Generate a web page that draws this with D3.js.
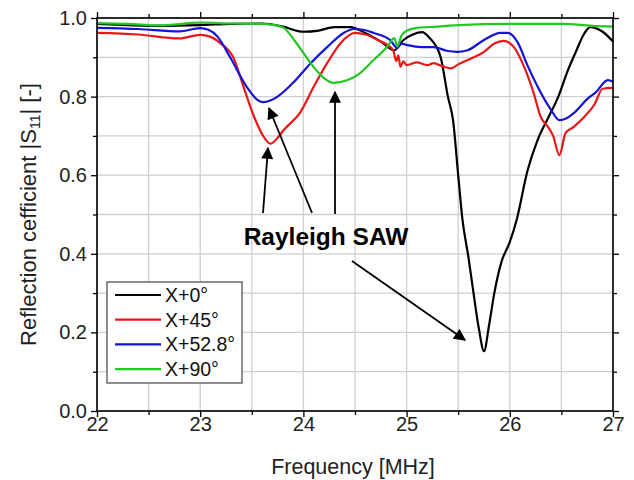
<!DOCTYPE html>
<html><head><meta charset="utf-8">
<script src="https://cdn.jsdelivr.net/npm/d3@7"></script>
<style>body{margin:0;background:#fff;} svg{display:block;font-family:"Liberation Sans",Arial,sans-serif;}</style>
</head><body>
<svg id="c" width="634" height="480"></svg>
<script>
const seriesNames = ["X+0°", "X+45°", "X+52.8°", "X+90°"];
const seriesColors = ["#000000", "#e81818", "#1414d4", "#22c822"];
const xTicks = [22, 23, 24, 25, 26, 27];
const yTicks = [0.0, 0.2, 0.4, 0.6, 0.8, 1.0];

const blackF = [22, 22.3, 22.6, 23, 23.3, 23.6, 23.8, 24.0, 24.15, 24.3, 24.45, 24.6, 24.75, 24.88, 24.97, 25.06, 25.15, 25.22, 25.33, 25.4, 25.45, 25.5, 25.54, 25.6, 25.64, 25.7, 25.75, 25.8, 25.85, 25.92, 26.0, 26.07, 26.17, 26.27, 26.37, 26.47, 26.56, 26.65, 26.72, 26.78, 26.9, 27];
const blackV = [0.985, 0.982, 0.98, 0.982, 0.985, 0.986, 0.978, 0.965, 0.968, 0.977, 0.977, 0.962, 0.94, 0.918, 0.944, 0.958, 0.964, 0.95, 0.90, 0.80, 0.74, 0.60, 0.49, 0.39, 0.316, 0.21, 0.152, 0.22, 0.30, 0.38, 0.43, 0.49, 0.61, 0.69, 0.745, 0.80, 0.865, 0.92, 0.96, 0.977, 0.965, 0.94];

const redF = [22, 22.4, 22.8, 23.0, 23.1, 23.2, 23.32, 23.42, 23.52, 23.61, 23.68, 23.75, 23.81, 23.97, 24.1, 24.23, 24.36, 24.5, 24.6, 24.72, 24.87, 24.9, 24.92, 24.94, 24.97, 25.0, 25.1, 25.2, 25.26, 25.35, 25.43, 25.5, 25.59, 25.75, 25.85, 25.94, 26.04, 26.14, 26.23, 26.3, 26.37, 26.42, 26.48, 26.54, 26.62, 26.72, 26.82, 26.9, 27];
const redV = [0.962, 0.958, 0.948, 0.957, 0.952, 0.935, 0.90, 0.825, 0.75, 0.70, 0.68, 0.695, 0.715, 0.76, 0.825, 0.885, 0.936, 0.962, 0.958, 0.944, 0.918, 0.89, 0.905, 0.876, 0.89, 0.88, 0.887, 0.88, 0.885, 0.877, 0.872, 0.882, 0.893, 0.914, 0.935, 0.942, 0.926, 0.875, 0.81, 0.748, 0.723, 0.70, 0.651, 0.707, 0.723, 0.748, 0.78, 0.82, 0.822];

const blueF = [22, 22.4, 22.8, 23.0, 23.08, 23.17, 23.29, 23.45, 23.54, 23.61, 23.68, 23.75, 23.9, 24.07, 24.23, 24.39, 24.49, 24.58, 24.68, 24.84, 24.91, 24.95, 25.01, 25.14, 25.26, 25.4, 25.49, 25.59, 25.75, 25.91, 25.98, 26.08, 26.17, 26.27, 26.4, 26.48, 26.55, 26.62, 26.76, 26.83, 26.95, 27];
const blueV = [0.975, 0.972, 0.966, 0.974, 0.97, 0.952, 0.90, 0.825, 0.795, 0.786, 0.79, 0.80, 0.835, 0.885, 0.926, 0.962, 0.972, 0.97, 0.962, 0.944, 0.924, 0.935, 0.931, 0.926, 0.926, 0.916, 0.914, 0.918, 0.944, 0.962, 0.962, 0.936, 0.88, 0.825, 0.766, 0.74, 0.745, 0.758, 0.796, 0.81, 0.842, 0.838];

const greenF = [22, 22.3, 22.6, 23, 23.3, 23.6, 23.72, 23.81, 23.91, 24.0, 24.1, 24.2, 24.29, 24.43, 24.55, 24.68, 24.81, 24.88, 24.91, 24.95, 25.01, 25.1, 25.3, 25.5, 26, 26.5, 26.8, 27];
const greenV = [0.987, 0.985, 0.981, 0.988, 0.986, 0.985, 0.982, 0.975, 0.944, 0.911, 0.875, 0.847, 0.835, 0.842, 0.86, 0.893, 0.926, 0.949, 0.928, 0.955, 0.969, 0.975, 0.978, 0.982, 0.985, 0.985, 0.98, 0.978];

const seriesF = [blackF, redF, blueF, greenF];
const seriesV = [blackV, redV, blueV, greenV];

const svg = d3.select("#c");
const L = 97, R = 613, T = 18, B = 411;
const x = d3.scaleLinear().domain([22, 27]).range([L, R]);
const y = d3.scaleLinear().domain([0, 1]).range([B, T]);

// grid
const gx = d3.range(22, 27.01, 0.5);
const gy = d3.range(0, 1.001, 0.1);
svg.append("g").selectAll("line").data(gx).join("line")
  .attr("x1", d => x(d)).attr("x2", d => x(d)).attr("y1", T).attr("y2", B)
  .attr("stroke", "#cfcfcf").attr("stroke-width", 1.3);
svg.append("g").selectAll("line").data(gy).join("line")
  .attr("x1", L).attr("x2", R).attr("y1", d => y(d)).attr("y2", d => y(d))
  .attr("stroke", "#cfcfcf").attr("stroke-width", 1.3);

// curves
const line = d3.line().x(d => x(d[0])).y(d => y(d[1])).curve(d3.curveMonotoneX);
svg.append("g").selectAll("path").data([0, 1, 2, 3]).join("path")
  .attr("d", i => line(seriesF[i].map((f, k) => [f, seriesV[i][k]])))
  .attr("fill", "none").attr("stroke", i => seriesColors[i]).attr("stroke-width", 2.2)
  .attr("stroke-linejoin", "round");

// axes
svg.append("g").attr("transform", `translate(0,${B})`)
  .call(d3.axisBottom(x).tickValues(xTicks).tickFormat(d3.format("d")).tickSize(6).tickPadding(0));
svg.append("g").attr("transform", `translate(0,${B})`)
  .call(d3.axisBottom(x).tickValues(d3.range(22.5, 27, 1)).tickFormat("").tickSize(4));
svg.append("g").attr("transform", `translate(${L},0)`)
  .call(d3.axisLeft(y).tickValues(yTicks).tickFormat(d3.format(".1f")).tickSize(6).tickPadding(4));
svg.append("g").attr("transform", `translate(${L},0)`)
  .call(d3.axisLeft(y).tickValues(d3.range(0.1, 1, 0.2)).tickFormat("").tickSize(4));
svg.append("g").attr("transform", `translate(${R},0)`)
  .call(d3.axisRight(y).tickValues(yTicks).tickFormat("").tickSize(6));
svg.append("g").attr("transform", `translate(${R},0)`)
  .call(d3.axisRight(y).tickValues(d3.range(0.1, 1, 0.2)).tickFormat("").tickSize(4));
svg.append("g").attr("transform", `translate(0,${T})`)
  .call(d3.axisTop(x).tickValues(xTicks).tickFormat("").tickSize(6));
svg.append("g").attr("transform", `translate(0,${T})`)
  .call(d3.axisTop(x).tickValues(d3.range(22.5, 27, 1)).tickFormat("").tickSize(4));
svg.selectAll(".domain").remove();
svg.selectAll(".tick line").attr("stroke", "#000").attr("stroke-width", 1.3);
svg.selectAll(".tick text").attr("font-size", "20px").attr("fill", "#222")
  .attr("font-family", "'Liberation Sans',Arial,sans-serif");
svg.append("rect").attr("x", L).attr("y", T).attr("width", R - L).attr("height", B - T)
  .attr("fill", "none").attr("stroke", "#000").attr("stroke-width", 1.6);

// axis titles
svg.append("text").attr("x", (L + R) / 2 - 2).attr("y", 474).attr("text-anchor", "middle")
  .attr("font-size", "21.5px").attr("fill", "#222").text("Frequency [MHz]");
const yl = svg.append("text").attr("transform", `translate(36,${(T + B) / 2}) rotate(-90)`)
  .attr("text-anchor", "middle").attr("font-size", "22px").attr("fill", "#222");
yl.append("tspan").text("Reflection cefficient |S");
yl.append("tspan").attr("font-size", "14px").attr("dy", 4).text("11");
yl.append("tspan").attr("dy", -4).text("| [-]");

// legend
const lg = svg.append("g");
lg.append("rect").attr("x", 107).attr("y", 282).attr("width", 135).attr("height", 101)
  .attr("fill", "#fff").attr("stroke", "#444").attr("stroke-width", 1.2);
seriesNames.forEach((n, i) => {
  const yy = 295 + i * 24.7;
  lg.append("line").attr("x1", 115).attr("x2", 161).attr("y1", yy).attr("y2", yy)
    .attr("stroke", seriesColors[i]).attr("stroke-width", 2.2);
  lg.append("text").attr("x", 165).attr("y", yy + 7).attr("font-size", "19.5px").attr("fill", "#111").text(n);
});

// annotation
svg.append("defs").append("marker").attr("id", "ah").attr("viewBox", "0 0 10 10")
  .attr("refX", 9).attr("refY", 5).attr("markerWidth", 14).attr("markerHeight", 12)
  .attr("markerUnits", "userSpaceOnUse").attr("orient", "auto")
  .append("path").attr("d", "M0,0 L10,5 L0,10 z").attr("fill", "#000");
const arrows = [[263, 213, 268, 148], [312, 213, 269, 108], [335, 214, 335, 92], [352, 261, 465, 340]];
svg.append("g").selectAll("line").data(arrows).join("line")
  .attr("x1", d => d[0]).attr("y1", d => d[1]).attr("x2", d => d[2]).attr("y2", d => d[3])
  .attr("stroke", "#000").attr("stroke-width", 1.8).attr("marker-end", "url(#ah)");
svg.append("text").attr("x", 326).attr("y", 245).attr("text-anchor", "middle")
  .attr("font-size", "24.5px").attr("font-weight", "bold").attr("fill", "#000").text("Rayleigh SAW");
</script>
</body></html>
